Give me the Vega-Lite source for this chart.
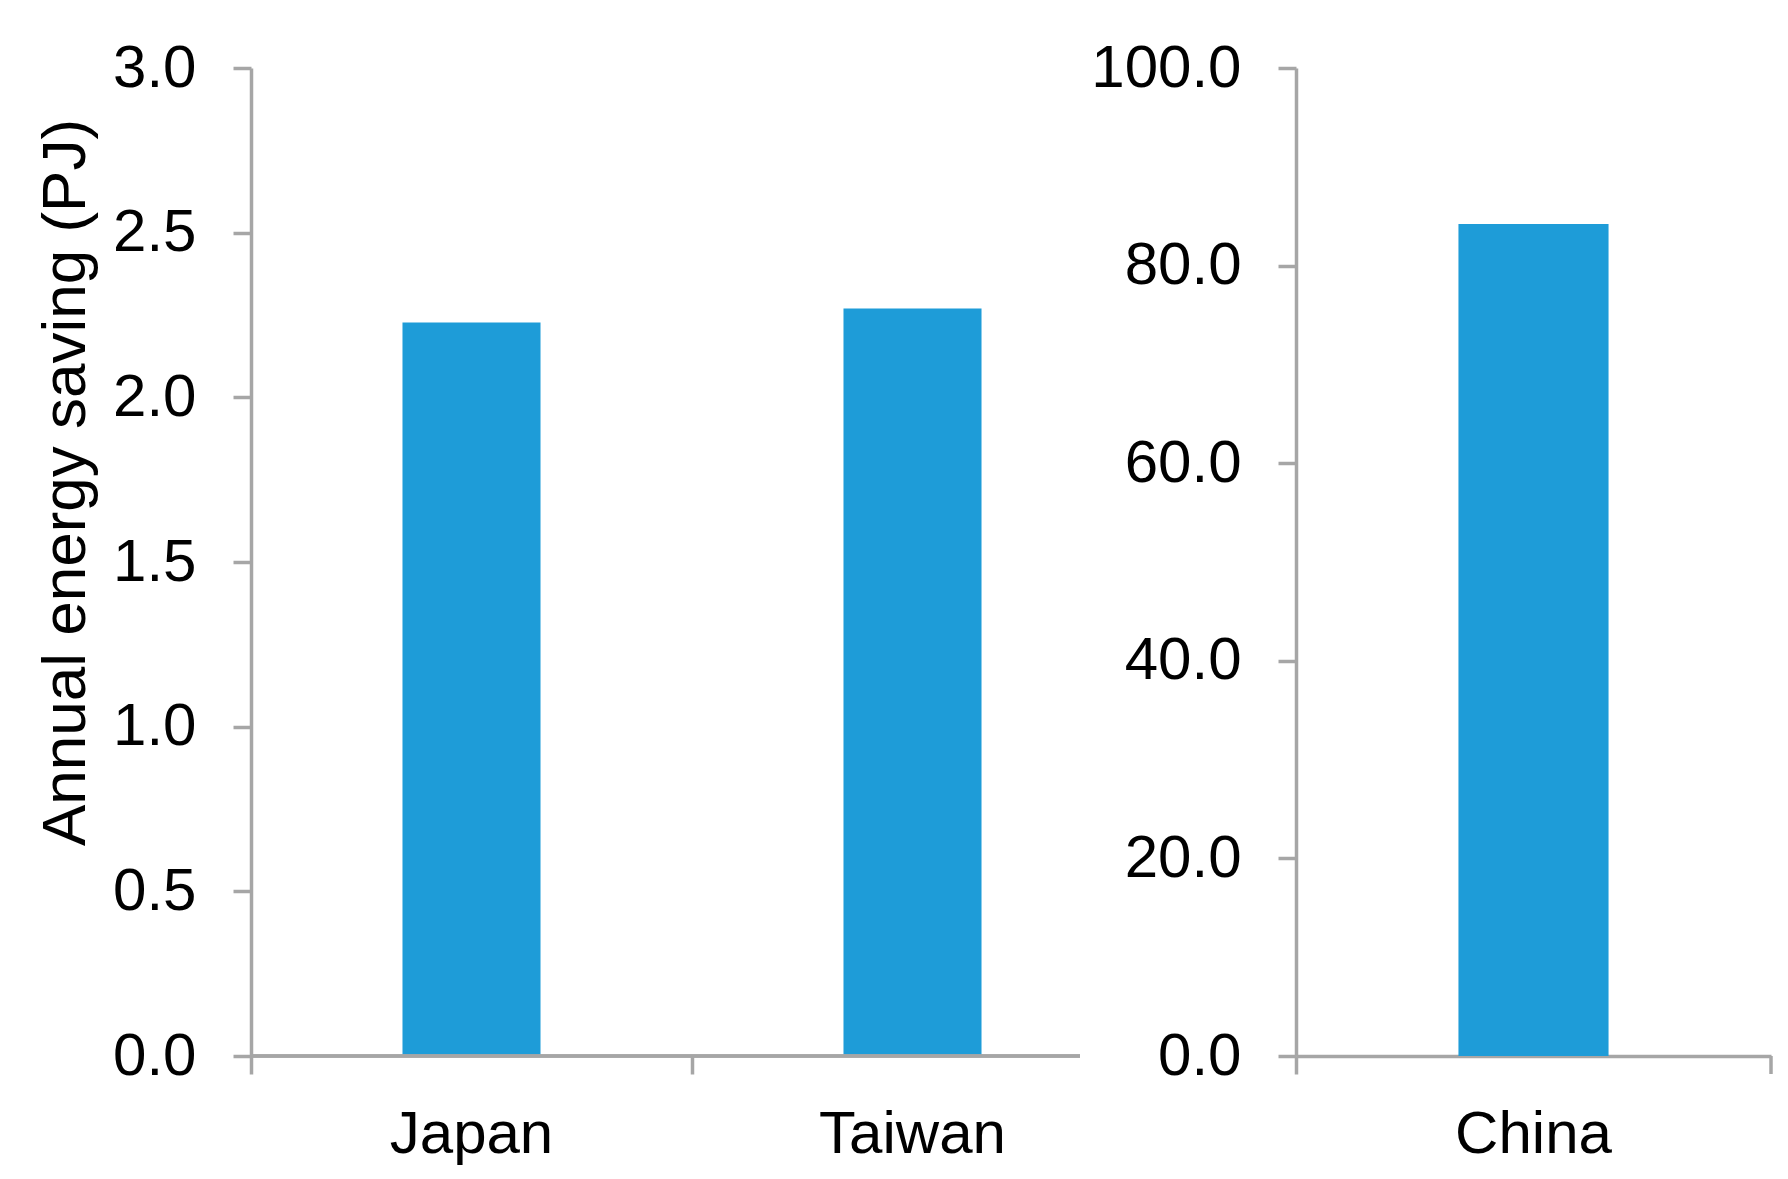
{
  "$schema": "https://vega.github.io/schema/vega-lite/v6.json",
  "padding": {"left": 34, "top": 38, "right": 10, "bottom": 5},
  "background": "white",
  "spacing": -43,
  "datasets": {
    "left": [
      {"country": "Japan", "saving": 2.227},
      {"country": "Taiwan", "saving": 2.27}
    ],
    "right": [
      {"country": "China", "saving": 84.2}
    ]
  },
  "config": {
    "view": {"stroke": null},
    "font": "Liberation Sans",
    "axis": {
      "domainColor": "#A6A6A6",
      "domainWidth": 3.5,
      "tickColor": "#A6A6A6",
      "tickWidth": 3.5,
      "tickSize": 18,
      "labelFont": "Liberation Sans",
      "labelFontSize": 60,
      "labelColor": "#000000",
      "titleFont": "Liberation Sans",
      "titleColor": "#000000",
      "titleFontWeight": "normal",
      "grid": false,
      "labelLimit": 400
    }
  },
  "hconcat": [
    {
      "width": 829,
      "height": 988,
      "data": {"name": "left"},
      "layer": [
        {
          "mark": {"type": "bar", "color": "#1E9CD8", "width": {"band": 0.313}},
          "encoding": {
            "x": {
              "field": "country", "type": "nominal", "sort": null,
              "scale": {"range": [0, 882], "paddingInner": 0, "paddingOuter": 0},
              "axis": {"title": null, "domain": false, "bandPosition": 0, "labelAngle": 0, "labelPadding": 31}
            },
            "y": {
              "field": "saving", "type": "quantitative",
              "scale": {"domain": [0, 3], "nice": false},
              "axis": {
                "title": "Annual energy saving (PJ)",
                "titleFontSize": 62,
                "titlePadding": 15,
                "titleY": 414,
                "values": [0, 0.5, 1, 1.5, 2, 2.5, 3],
                "format": ".1f",
                "labelPadding": 37
              }
            }
          }
        },
        {
          "mark": {"type": "rule", "color": "#A6A6A6", "strokeWidth": 3.5},
          "encoding": {"y": {"datum": 0}}
        }
      ]
    },
    {
      "width": 475,
      "height": 988,
      "data": {"name": "right"},
      "layer": [
        {
          "mark": {"type": "bar", "color": "#1E9CD8", "width": {"band": 0.316}},
          "encoding": {
            "x": {
              "field": "country", "type": "nominal", "sort": null,
              "scale": {"paddingInner": 0, "paddingOuter": 0},
              "axis": {"title": null, "bandPosition": 0, "labelAngle": 0, "labelPadding": 31}
            },
            "y": {
              "field": "saving", "type": "quantitative",
              "scale": {"domain": [0, 100], "nice": false},
              "axis": {
                "title": null,
                "values": [0, 20, 40, 60, 80, 100],
                "format": ".1f",
                "labelPadding": 37
              }
            }
          }
        },
        {
          "mark": {"type": "rule", "color": "#A6A6A6", "strokeWidth": 3.5},
          "encoding": {
            "x": {"field": "country", "type": "nominal", "bandPosition": 1},
            "y": {"datum": 0},
            "y2": {"datum": -1.82}
          }
        }
      ]
    }
  ]
}
